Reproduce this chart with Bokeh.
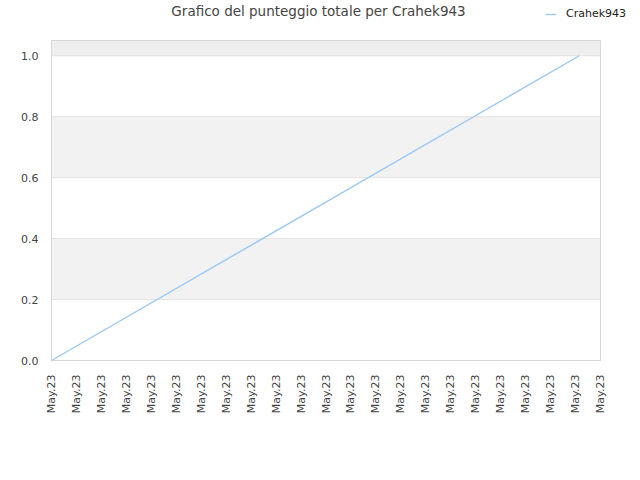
from bokeh.plotting import figure
from bokeh.models import FixedTicker, BoxAnnotation, Legend, LegendItem, Range1d, Label
from bokeh.embed import file_html
from bokeh.resources import INLINE
import math

# data
x_vals = [0, 21.15]
y_vals = [0.0, 1.0]
x_tick_pos = list(range(23))
x_tick_labels = ["May.23"] * 23
y_ticks = [0.0, 0.2, 0.4, 0.6, 0.8, 1.0]
band_bottoms = [0.2, 0.6, 1.0]
band_tops = [0.4, 0.8, 1.05]
band_colors = ["#f2f2f2", "#f2f2f2", "#eeeeee"]
series_name = "Crahek943"
title_text = "Grafico del punteggio totale per Crahek943"

FONT = "DejaVu Sans"
LINE_COLOR = "#9cc8f6"

# plot area geometry (px): visible chart box inside a larger frame that also holds title+legend
BOX_W, BOX_H = 549, 320
PAD = 2
FRAME_W, FRAME_H = 581 + PAD, 360 + PAD
X0, X1 = 0, 22
Y0, Y1 = 0.0, 1.05
px_x = BOX_W / (X1 - X0)
px_y = BOX_H / (Y1 - Y0)
x_start = X0 - PAD / px_x
y_start = Y0 - PAD / px_y
x_end = x_start + FRAME_W / px_x
y_end = y_start + FRAME_H / px_y

p = figure(frame_width=FRAME_W, frame_height=FRAME_H, output_backend="svg",
           toolbar_location=None, x_range=Range1d(x_start, x_end), y_range=Range1d(y_start, y_end),
           min_border_left=51 - PAD, min_border_right=0, min_border_top=0, min_border_bottom=60)
p.outline_line_color = None
p.grid.visible = False

for b, t, c in zip(band_bottoms, band_tops, band_colors):
    p.add_layout(BoxAnnotation(left=X0, right=X1, bottom=b, top=t, fill_color=c,
                               fill_alpha=1.0, line_alpha=0, level="underlay"))

# horizontal grid lines within the chart box
p.segment(x0=[X0] * len(y_ticks), x1=[X1] * len(y_ticks), y0=y_ticks, y1=y_ticks,
          line_color="#e3e3e3", line_width=1)

# chart box outline
p.quad(left=[X0], right=[X1], bottom=[Y0], top=[Y1], fill_alpha=0,
       line_color="#d6d6d6", line_width=1)

r = p.line(x_vals, y_vals, line_color=LINE_COLOR, line_width=1.4)

p.xaxis.ticker = FixedTicker(ticks=x_tick_pos)
p.xaxis.major_label_overrides = {i: lab for i, lab in zip(x_tick_pos, x_tick_labels)}
p.xaxis.major_label_orientation = math.pi / 2
p.yaxis.ticker = FixedTicker(ticks=y_ticks)
p.yaxis.major_label_overrides = {v: f"{v:.1f}" for v in y_ticks}
for ax in (p.xaxis, p.yaxis):
    ax.axis_line_color = None
    ax.major_tick_line_color = None
    ax.minor_tick_line_color = None
    ax.major_label_text_font = FONT
    ax.major_label_text_font_size = "11px"
    ax.major_label_text_color = "#444444"
p.xaxis.major_label_standoff = 8 - PAD
p.yaxis.major_label_standoff = 7 - PAD

# title
p.add_layout(Label(x=10.7, y=1.148, text=title_text, text_align="center",
                   text_baseline="alphabetic", text_font=FONT,
                   text_font_size="13.5px", text_color="#444444"))

legend = Legend(items=[LegendItem(label=series_name, renderers=[r])],
                location=(494 + PAD, 340 + PAD), orientation="horizontal",
                border_line_alpha=0, background_fill_alpha=0,
                label_text_font=FONT, label_text_font_size="11px",
                label_text_color="#222222", glyph_width=11, glyph_height=12,
                label_height=12, padding=0, margin=0, label_standoff=10)
p.add_layout(legend, "center")

open("out.html", "w").write(file_html(p, INLINE))
